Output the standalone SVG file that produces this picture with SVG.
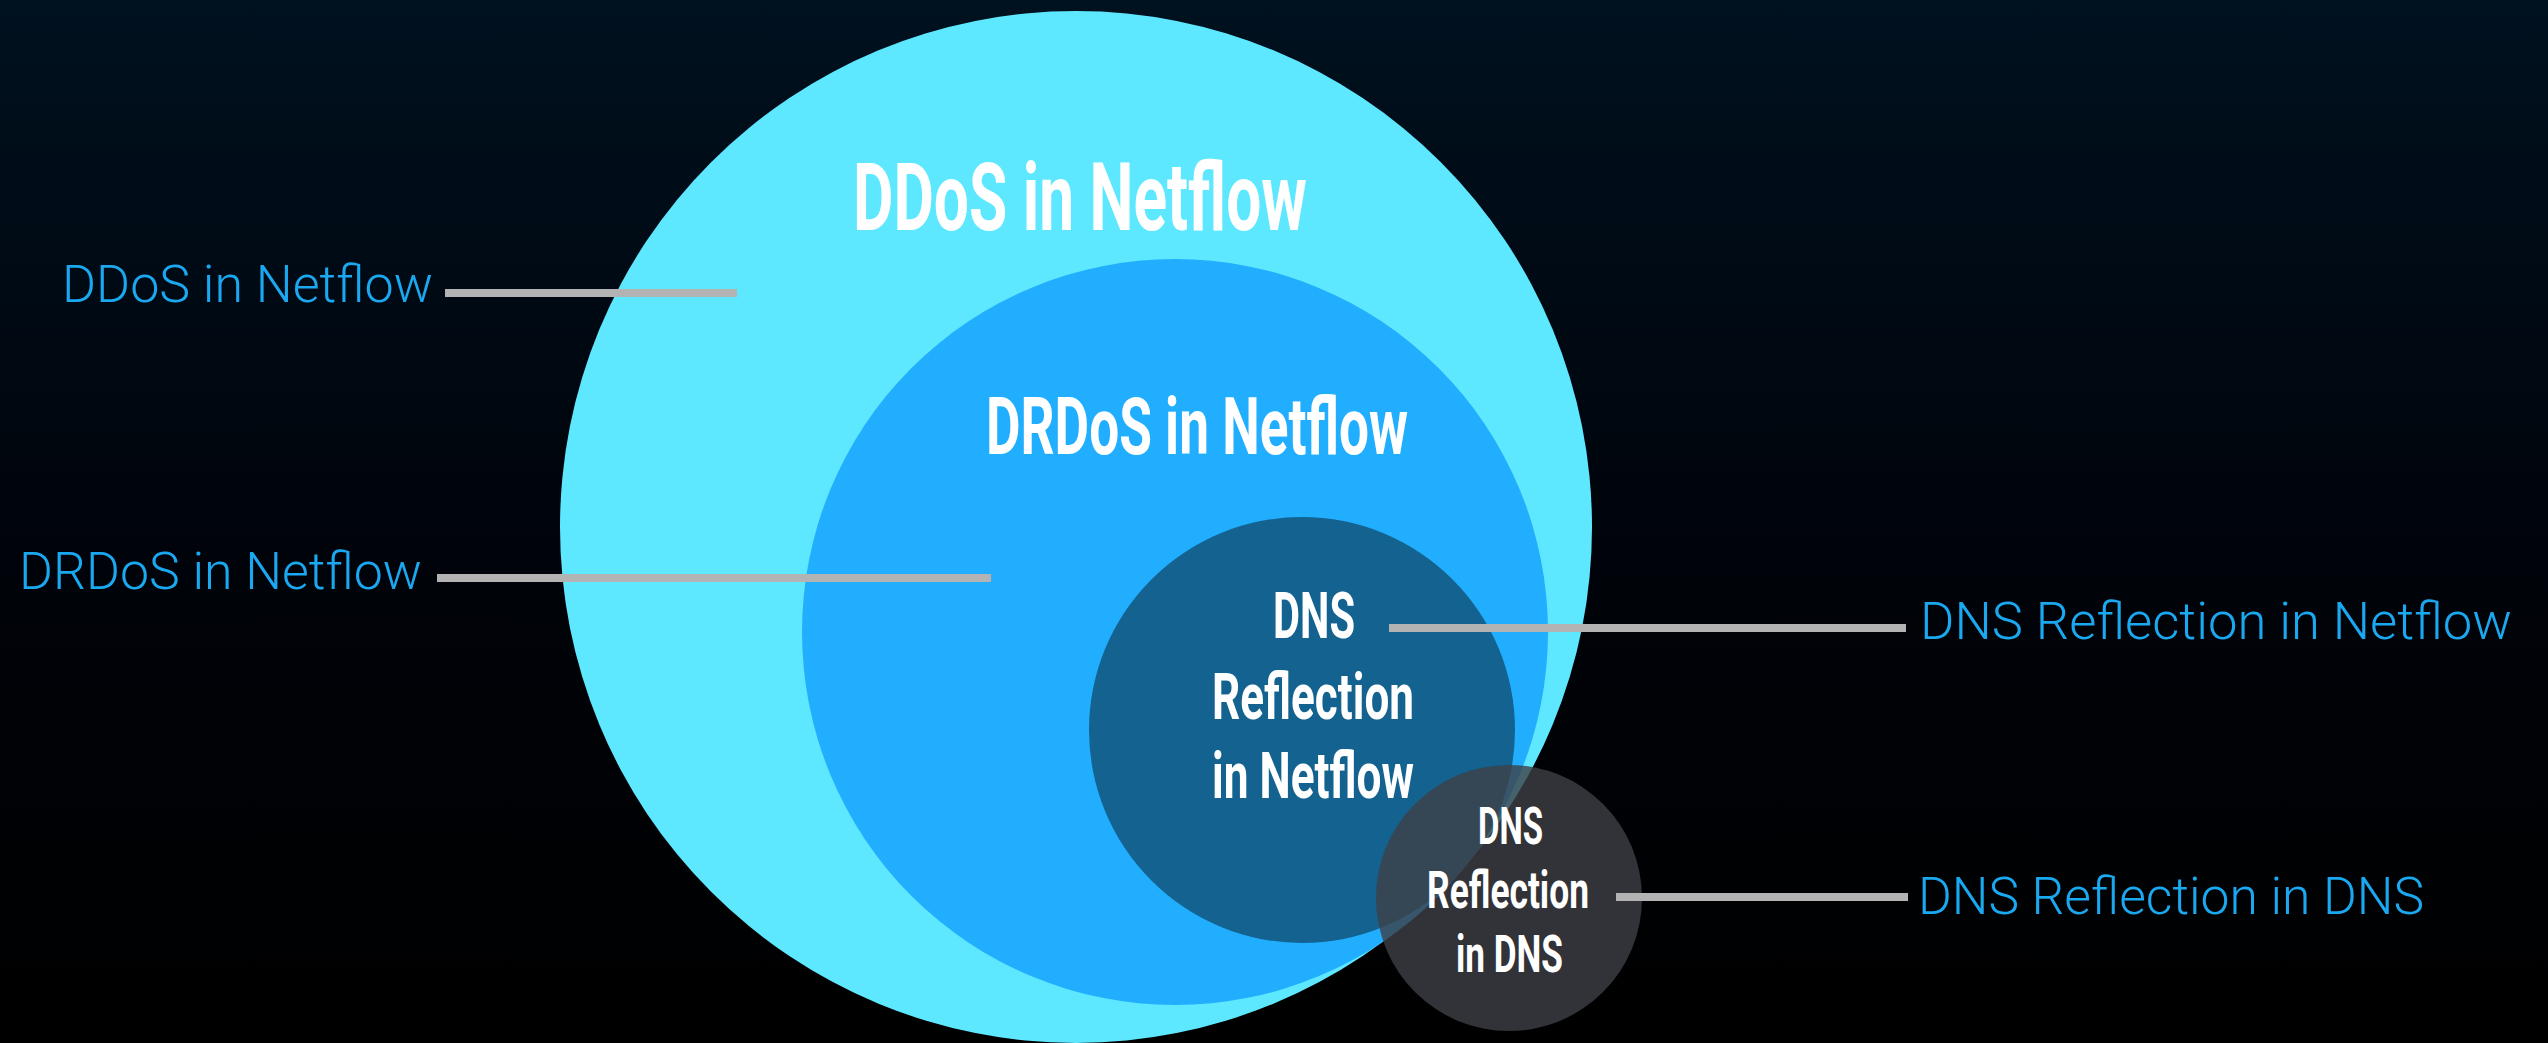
<svg xmlns="http://www.w3.org/2000/svg" width="2548" height="1043" viewBox="0 0 2548 1043">
  <defs>
    <linearGradient id="bg" x1="0" y1="0" x2="0" y2="1">
      <stop offset="0" stop-color="#00111f"/>
      <stop offset="0.55" stop-color="#000309"/>
      <stop offset="1" stop-color="#000000"/>
    </linearGradient>
    <style>
      .inner { font-family: Roboto, "Liberation Sans", sans-serif; font-weight: 700; fill: #ffffff; }
      .label { font-family: Roboto, "Liberation Sans", sans-serif; font-weight: 300; fill: #1aa8f0; font-size: 52px; }
      .lead { stroke: #b3b3b3; stroke-width: 8; fill: none; }
    </style>
  </defs>

  <rect width="2548" height="1043" fill="url(#bg)"/>

  <!-- nested sets -->
  <g id="ddos-netflow">
    <circle cx="1076" cy="527" r="516" fill="#5ee8ff"/>
    <text class="inner" x="853" y="230" font-size="94" textLength="454" lengthAdjust="spacingAndGlyphs">DDoS in Netflow</text>
  </g>

  <g id="drdos-netflow">
    <circle cx="1175" cy="632" r="373" fill="#22aeff"/>
    <text class="inner" x="986" y="454" font-size="79" textLength="422" lengthAdjust="spacingAndGlyphs">DRDoS in Netflow</text>
  </g>

  <g id="dns-reflection-netflow">
    <circle cx="1302" cy="730" r="213" fill="#13628f"/>
    <text class="inner" x="1273" y="638" font-size="65" textLength="82" lengthAdjust="spacingAndGlyphs">DNS</text>
    <text class="inner" x="1212" y="719" font-size="65" textLength="202" lengthAdjust="spacingAndGlyphs">Reflection</text>
    <text class="inner" x="1212" y="798" font-size="65" textLength="202" lengthAdjust="spacingAndGlyphs">in Netflow</text>
  </g>

  <g id="dns-reflection-dns">
    <circle cx="1509" cy="898" r="133" fill="#3e4046" fill-opacity="0.8"/>
    <text class="inner" x="1478" y="844" font-size="52" textLength="65" lengthAdjust="spacingAndGlyphs">DNS</text>
    <text class="inner" x="1427" y="908" font-size="52" textLength="162" lengthAdjust="spacingAndGlyphs">Reflection</text>
    <text class="inner" x="1456" y="972" font-size="52" textLength="107" lengthAdjust="spacingAndGlyphs">in DNS</text>
  </g>

  <!-- leader lines -->
  <g id="connectors">
    <line class="lead" x1="445" y1="293" x2="737" y2="293"/>
    <line class="lead" x1="437" y1="578" x2="991" y2="578"/>
    <line class="lead" x1="1389" y1="628" x2="1906" y2="628"/>
    <line class="lead" x1="1616" y1="897" x2="1908" y2="897"/>
  </g>

  <!-- side labels -->
  <g id="labels">
    <text class="label" x="62" y="302" textLength="371" lengthAdjust="spacingAndGlyphs">DDoS in Netflow</text>
    <text class="label" x="19" y="589" textLength="403" lengthAdjust="spacingAndGlyphs">DRDoS in Netflow</text>
    <text class="label" x="1920" y="639" textLength="592" lengthAdjust="spacingAndGlyphs">DNS Reflection in Netflow</text>
    <text class="label" x="1918" y="914" textLength="506" lengthAdjust="spacingAndGlyphs">DNS Reflection in DNS</text>
  </g>
</svg>
